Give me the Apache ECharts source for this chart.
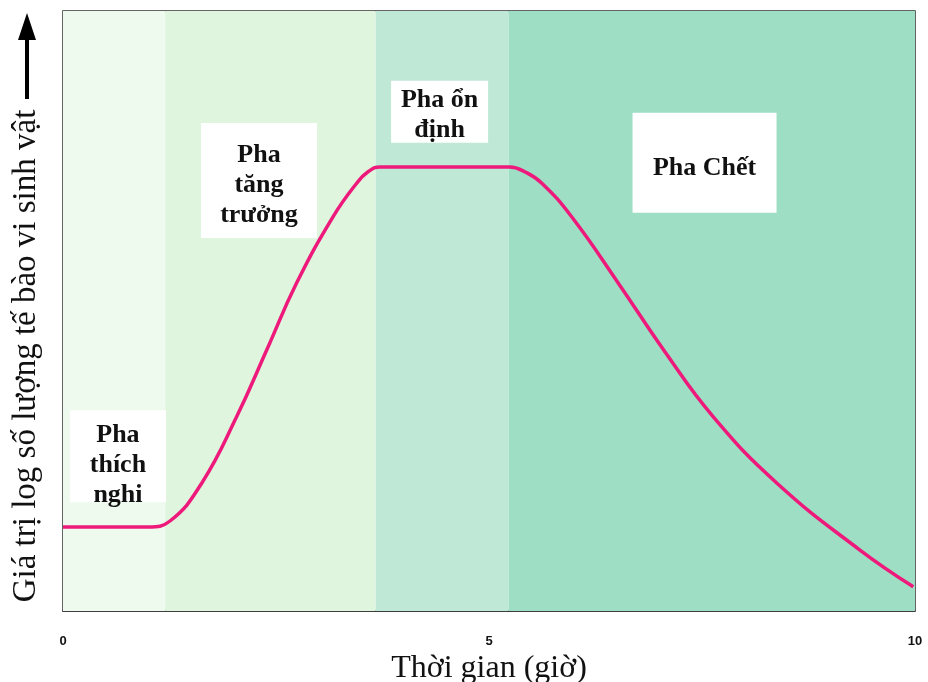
<!DOCTYPE html>
<html>
<head>
<meta charset="utf-8">
<script src="https://cdn.jsdelivr.net/npm/echarts@6/dist/echarts.min.js"></script>
<style>
  html, body { margin: 0; padding: 0; background: #fff; }
  #chart { width: 928px; height: 682px; }
</style>
</head>
<body>
<div id="chart"></div>
<script>
// thời gian (giờ)
const timeX = [0, 0.5, 1.0, 1.256, 1.628, 2.039, 2.391, 2.743, 3.169, 3.447, 3.58, 3.72, 4.47, 5.246,
  5.42, 5.62, 5.97, 6.52, 7.05, 7.63, 8.38, 9.35, 9.98]
// giá trị log (thang tương đối 0-100)
const logValue = [14, 14, 14, 15.0, 21.3, 32.4, 43.5, 54.7, 65.7, 71.3, 73.2, 74, 74, 74,
  73.2, 71.3, 65.7, 54.6, 43.5, 32.4, 21.3, 10.2, 4.05]

// các pha: ranh giới và màu nền
const phaseStart = [0, 1.2, 3.67, 5.23]
const phaseEnd = [1.2, 3.67, 5.23, 10]
const phaseColors = ['#eefaee', '#dff5de', '#bfe9d6', '#9ddec4']

// nhãn các pha
const phaseNames = ['Pha\nthích\nnghi', 'Pha\ntăng\ntrưởng', 'Pha ổn\nđịnh', 'Pha Chết']
const phaseLabelX = [0.645, 2.30, 4.42, 7.53]
const phaseLabelY = [25.8, 71.75, 83.2, 74.7]
const phaseBoxSize = [[96, 92], [116, 115], [97, 62], [144, 100]]
const phaseTextShift = [9, 5, 3, 5]

const chart = echarts.init(document.getElementById('chart'))

chart.setOption({
  animation: false,
  grid: {
    left: 63, right: 13, top: 11, bottom: 71,
    outerBoundsMode: 'none',
    containLabel: false,
    show: true,
    borderColor: '#333',
    borderWidth: 1.5,
  },
  xAxis: {
    type: 'value',
    min: 0,
    max: 10,
    interval: 5,
    name: 'Thời gian (giờ)',
    nameLocation: 'middle',
    nameGap: 30,
    nameTextStyle: { fontFamily: 'Liberation Serif', fontSize: 32, color: '#111' },
    splitLine: { show: false },
    axisTick: { show: false },
    axisLine: { show: true, lineStyle: { color: '#333', width: 1.5 } },
    axisLabel: {
      margin: 24,
      fontFamily: 'Liberation Sans',
      fontWeight: 'bold',
      fontSize: 13,
      color: '#111',
    },
  },
  yAxis: {
    type: 'value',
    min: 0,
    max: 100,
    name: 'Giá trị log số lượng tế bào vi sinh vật',
    nameLocation: 'middle',
    nameGap: 20,
    nameTextStyle: {
      fontFamily: 'Liberation Serif',
      fontSize: 33,
      color: '#111',
      padding: [0, 90, 0, 0],
    },
    splitLine: { show: false },
    axisTick: { show: false },
    axisLabel: { show: false },
    axisLine: { show: false },
  },
  graphic: [
    {
      type: 'line',
      shape: { x1: 27, y1: 99, x2: 27, y2: 36 },
      style: { stroke: '#000', lineWidth: 4 },
    },
    {
      type: 'polygon',
      shape: { points: [[27, 13], [18, 40], [36, 40]] },
      style: { fill: '#000' },
    },
  ],
  series: [
    {
      type: 'line',
      data: timeX.map((x, i) => [x, logValue[i]]),
      smooth: 0.45,
      showSymbol: false,
      lineStyle: { color: '#ee1a7b', width: 3.5 },
      markArea: {
        silent: true,
        data: phaseStart.map((s, i) => [
          { xAxis: s, itemStyle: { color: phaseColors[i] } },
          { xAxis: phaseEnd[i] },
        ]),
      },
      markPoint: {
        silent: true,
        data: phaseNames.map((n, i) => ({
          coord: [phaseLabelX[i], phaseLabelY[i]],
          symbol: 'rect',
          symbolSize: phaseBoxSize[i],
          itemStyle: { color: '#fff' },
          label: {
            show: true,
            position: 'inside',
            offset: [0, phaseTextShift[i]],
            formatter: n,
            fontFamily: 'Liberation Serif',
            fontWeight: 'bold',
            fontSize: 26,
            lineHeight: 30,
            color: '#111',
          },
        })),
      },
    },
  ],
})
</script>
</body>
</html>
